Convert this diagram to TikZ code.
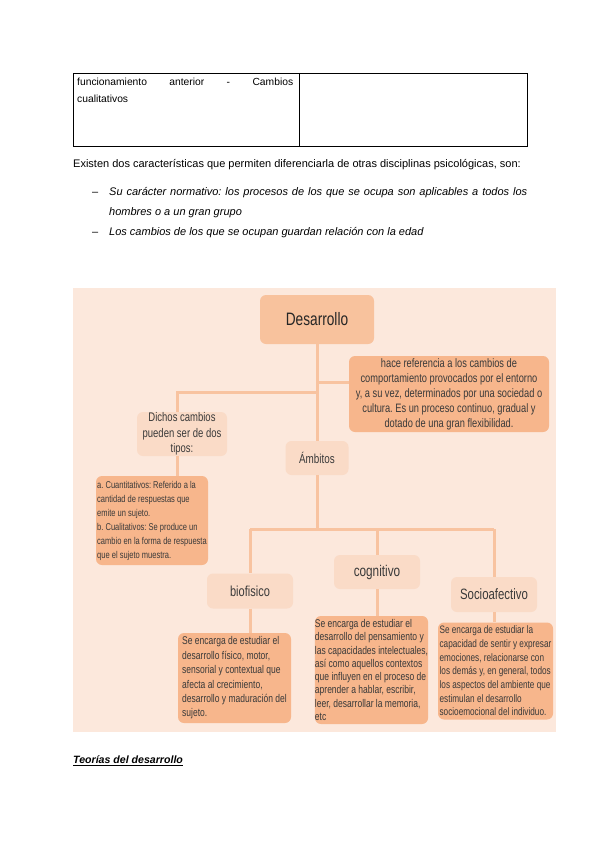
\documentclass[tikz,border=0pt]{standalone}
\usepackage{fontspec}
\setmainfont{Liberation Sans}
\newfontfamily\boxfont[FakeStretch=0.76]{Liberation Sans}
\usetikzlibrary{positioning,calc}
\definecolor{panel}{HTML}{FCE8DC}
\definecolor{darkbox}{HTML}{F8C29D}
\definecolor{midbox}{HTML}{F7B68C}
\definecolor{lightbox}{HTML}{FADBC7}
\definecolor{connc}{HTML}{F8C3A0}
\definecolor{boxtext}{HTML}{3A3A3A}
\tikzset{
  basebox/.style={rounded corners=6pt, inner sep=0pt, text=boxtext, font=\boxfont},
  lightnode/.style={basebox, fill=lightbox},
  midnode/.style={basebox, fill=midbox},
  conn/.style={draw=connc, line width=3pt},
  bodytext/.style={inner sep=0pt, font=\fontsize{11}{12}\selectfont}
}
\begin{document}
\frenchspacing
\begin{tikzpicture}[x=1pt,y=-1pt]
\useasboundingbox (0,0) rectangle (600,848);
\fill[white] (0,0) rectangle (600,848);

% table
\node[draw=black, line width=0.9pt, minimum width=454, minimum height=73, inner sep=0pt] (tbl) at (300,109.5) {};
\coordinate (tdivtop) at (299,73);
\coordinate (tdivbot) at (299,146);
\draw[line width=0.9pt] (tdivtop) -- (tdivbot);
\node[anchor=north west, inner sep=0pt, font=\fontsize{10.3}{17}\selectfont, align=left] (tbltxt) at (77,78)
  {\makebox[216pt][s]{funcionamiento anterior - Cambios}\\cualitativos};

% paragraph
\node[bodytext, anchor=base west] (para) at (73,167)
  {Existen dos características que permiten diferenciarla de otras disciplinas psicológicas, son:};
\node[bodytext, anchor=base west] (dash1) at (92,195) {--};
\node[bodytext, anchor=base west, font=\fontsize{11}{12}\selectfont\itshape] (b1a) at (109,195)
  {\makebox[418pt][s]{Su carácter normativo: los procesos de los que se ocupa son aplicables a todos los}};
\node[bodytext, anchor=base west, font=\fontsize{11}{12}\selectfont\itshape] (b1b) at (109,215)
  {hombres o a un gran grupo};
\node[bodytext, anchor=base west] (dash2) at (92,235) {--};
\node[bodytext, anchor=base west, font=\fontsize{11}{12}\selectfont\itshape] (b2) at (109,235)
  {Los cambios de los que se ocupan guardan relación con la edad};

% panel
\fill[panel] (73,288) rectangle (556,732);

% connector junctions
\coordinate (j1) at (317,382);
\coordinate (j2) at (317,392);
\coordinate (d1) at (177,392);
\coordinate (h) at (317,529);

% nodes
\node[basebox, fill=darkbox, minimum width=114, minimum height=49, font=\boxfont\fontsize{18}{20}\selectfont, text=black!85] (des) at (317,319.5) {Desarrollo};
\node[midnode, minimum width=200, minimum height=76, align=center, font=\boxfont\fontsize{12.2}{15}\selectfont] (hace) at (449,394)
  {hace referencia a los cambios de\\comportamiento provocados por el entorno\\y, a su vez, determinados por una sociedad o\\cultura. Es un proceso continuo, gradual y\\dotado de una gran flexibilidad.};
\node[lightnode, minimum width=90, minimum height=44, align=center, font=\boxfont\fontsize{12.5}{15.5}\selectfont] (dich) at (182,434)
  {Dichos cambios\\pueden ser de dos\\tipos:};
\node[midnode, minimum width=112, minimum height=89, align=left, font=\boxfont\fontsize{9.9}{14}\selectfont] (ab) at (152,520.5)
  {a. Cuantitativos: Referido a la\\cantidad de respuestas que\\emite un sujeto.\\b. Cualitativos: Se produce un\\cambio en la forma de respuesta\\que el sujeto muestra.};
\node[lightnode, minimum width=63, minimum height=34, font=\boxfont\fontsize{13}{15}\selectfont] (amb) at (317,458) {Ámbitos};
\node[lightnode, minimum width=86, minimum height=35, font=\boxfont\fontsize{14.5}{16}\selectfont] (bio) at (250,591) {biofisico};
\node[lightnode, minimum width=86, minimum height=34, font=\boxfont\fontsize{15.5}{17}\selectfont] (cog) at (377,572) {cognitivo};
\node[lightnode, minimum width=86, minimum height=35, font=\boxfont\fontsize{15}{17}\selectfont] (soc) at (494,594.5) {Socioafectivo};
\node[midnode, minimum width=113, minimum height=90, align=left, font=\boxfont\fontsize{11.2}{14.4}\selectfont] (biod) at (234.5,678)
  {Se encarga de estudiar el\\desarrollo físico, motor,\\sensorial y contextual que\\afecta al crecimiento,\\desarrollo y maduración del\\sujeto.};
\node[midnode, minimum width=113, minimum height=108, align=left, font=\boxfont\fontsize{11.2}{13.3}\selectfont] (cogd) at (371.5,670)
  {Se encarga de estudiar el\\desarrollo del pensamiento y\\las capacidades intelectuales,\\así como aquellos contextos\\que influyen en el proceso de\\aprender a hablar, escribir,\\leer, desarrollar la memoria,\\etc};
\node[midnode, minimum width=115, minimum height=97, align=left, font=\boxfont\fontsize{10.8}{13.7}\selectfont] (socd) at (495.5,671)
  {Se encarga de estudiar la\\capacidad de sentir y expresar\\emociones, relacionarse con\\los demás y, en general, todos\\los aspectos del ambiente que\\estimulan el desarrollo\\socioemocional del individuo.};

% connectors
\draw[conn] (des.south) -- (amb.north);
\draw[conn] (j1) -- (j1 -| hace.west);
\draw[conn] (j2) -- (d1) -- (d1 |- dich.north);
\draw[conn] (d1 |- dich.south) -- (d1 |- ab.north);
\draw[conn] (amb.south) -- (h);
\draw[conn] (bio.north |- h) -- (soc.north |- h);
\draw[conn] (bio.north |- h) -- (bio.north);
\draw[conn] (cog.north |- h) -- (cog.north);
\draw[conn] (soc.north |- h) -- (soc.north);
\draw[conn] (bio.south) -- (bio.south |- biod.north);
\draw[conn] (cog.south) -- (cog.south |- cogd.north);
\draw[conn] (soc.south) -- (soc.south |- socd.north);

% footer
\node[anchor=base west, inner sep=0pt, font=\fontsize{10.6}{12}\selectfont\bfseries\itshape] (teo) at (73,763) {Teorías del desarrollo};
\draw[line width=0.8pt] ($(teo.base west)+(0,2.5)$) -- ($(teo.base east)+(0,2.5)$);
\end{tikzpicture}
\end{document}
